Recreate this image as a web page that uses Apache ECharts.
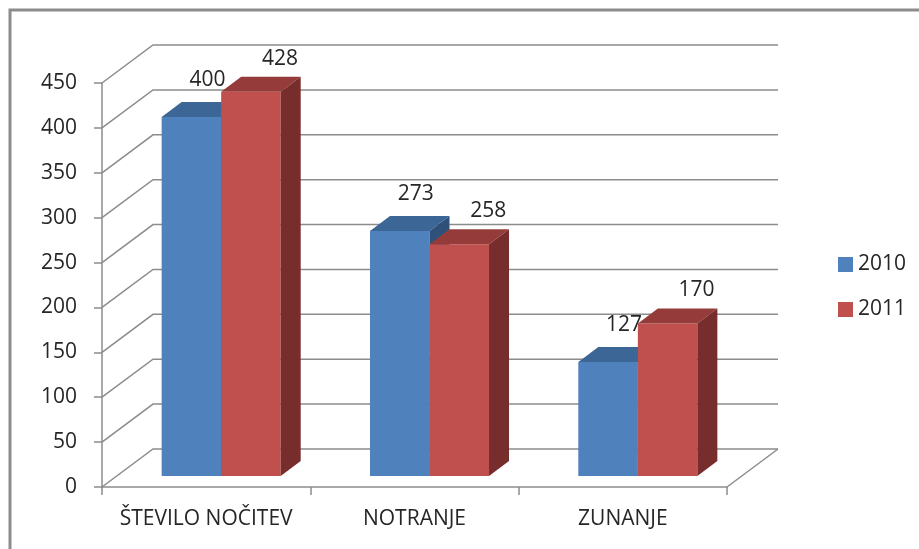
<!DOCTYPE html>
<html><head><meta charset="utf-8">
<script src="https://cdn.jsdelivr.net/npm/echarts@6/dist/echarts.min.js"></script>
<style>html,body{margin:0;padding:0;background:#fff}#c{width:919px;height:549px}</style>
</head><body><div id="c"></div>
<script>
const categories = ['ŠTEVILO NOČITEV', 'NOTRANJE', 'ZUNANJE'];
const seriesNames = ['2010', '2011'];
const values2010 = [400, 273, 127];
const values2011 = [428, 258, 170];
const yTicks = [0, 50, 100, 150, 200, 250, 300, 350, 400, 450];

const FONT = '"Open Sans", "Noto Sans", sans-serif';
const FS = 21;
const TEXT = '#262626';
const GRID_COLOR = '#8c8c8c';
const WALL = { dx: 51, dy: -38 };
const BAR_FRONT = { dx: 15, dy: -11 };
const BAR_DEPTH = { dx: 20, dy: -15 };
const faceColors = [
  { front: '#4F81BD', top: '#3c6696', side: '#2f5179' },
  { front: '#C0504D', top: '#953c3a', side: '#772d2b' }
];
const labelOffset = [{ dx: 16, dy: -37 }, { dx: 29, dy: -33 }];

function gridRender(params, api) {
  const cs = params.coordSys;
  const v = api.value(1);
  const y = api.coord([0, v])[1];
  const x0 = cs.x, x1 = cs.x + cs.width;
  const children = [{
    type: 'polyline',
    shape: { points: [[x0, y], [x0 + WALL.dx, y + WALL.dy], [x1 + WALL.dx, y + WALL.dy]] },
    style: { stroke: GRID_COLOR, lineWidth: 1.5, fill: null }
  }];
  if (v === 0) {
    children.push({ type: 'line', shape: { x1: x1, y1: y, x2: x1 + WALL.dx, y2: y + WALL.dy },
      style: { stroke: GRID_COLOR, lineWidth: 1.5 } });
  }
  return { type: 'group', children: children };
}

function makeBarRender(si) {
  return function (params, api) {
    const idx = api.value(0);
    const v = api.value(1);
    const catW = api.size([1, 0])[0];
    const w = catW / 3.5;
    const c = api.coord([idx, v]);
    const base = api.coord([idx, 0]);
    const left = c[0] + (si === 0 ? -w : 0) + BAR_FRONT.dx;
    const right = left + w;
    const top = c[1] + BAR_FRONT.dy;
    const bottom = base[1] + BAR_FRONT.dy;
    const col = faceColors[si];
    const d = BAR_DEPTH;
    return {
      type: 'group',
      children: [
        { type: 'rect', shape: { x: left, y: top, width: w, height: bottom - top },
          style: { fill: col.front } },
        { type: 'polygon', shape: { points: [[left, top], [right, top], [right + d.dx, top + d.dy], [left + d.dx, top + d.dy]] },
          style: { fill: col.top } },
        { type: 'polygon', shape: { points: [[right, top], [right + d.dx, top + d.dy], [right + d.dx, bottom + d.dy], [right, bottom]] },
          style: { fill: col.side } },
        { type: 'text', style: { text: String(v), x: left + w / 2 + labelOffset[si].dx, y: top + labelOffset[si].dy,
          align: 'center', verticalAlign: 'middle', fontSize: FS, fontFamily: FONT, fill: TEXT } }
      ]
    };
  };
}

const allValues = [values2010, values2011];
const series = [{
  type: 'custom',
  name: 'grid',
  renderItem: gridRender,
  data: yTicks.map(t => [0, t]),
  encode: { x: 0, y: 1 },
  silent: true,
  z: 1
}];
seriesNames.forEach((n, si) => {
  series.push({
    type: 'custom',
    name: n,
    renderItem: makeBarRender(si),
    data: allValues[si].map((v, i) => [i, v]),
    encode: { x: 0, y: 1 },
    itemStyle: { color: faceColors[si].front },
    z: 2 + si
  });
});

const chart = echarts.init(document.getElementById('c'), null, { renderer: 'canvas' });
chart.setOption({
  animation: false,
  backgroundColor: '#fff',
  grid: { left: 102, top: 83, width: 625, height: 404 },
  xAxis: {
    type: 'category',
    data: categories,
    boundaryGap: true,
    axisLine: { lineStyle: { color: GRID_COLOR, width: 1.5 } },
    axisTick: { show: true, length: 8, lineStyle: { color: GRID_COLOR, width: 1.5 } },
    axisLabel: { color: TEXT, fontSize: FS, fontFamily: FONT, margin: 22, interval: 0 },
    splitLine: { show: false }
  },
  yAxis: {
    type: 'value',
    min: 0, max: 450, interval: 50,
    axisLine: { show: true, lineStyle: { color: GRID_COLOR, width: 1.5 } },
    axisTick: { show: true, length: 8, lineStyle: { color: GRID_COLOR, width: 1.5 } },
    axisLabel: { color: TEXT, fontSize: FS, fontFamily: FONT, margin: 25 },
    splitLine: { show: false }
  },
  legend: {
    data: seriesNames,
    orient: 'vertical',
    left: 833, top: 249,
    icon: 'rect',
    itemWidth: 15, itemHeight: 15,
    itemGap: 24,
    textStyle: { color: TEXT, fontSize: FS, fontFamily: FONT, lineHeight: 21 }
  },
  graphic: [{
    type: 'rect', x: 10, y: 10, silent: true,
    shape: { x: 0, y: 0, width: 1000, height: 1000 },
    style: { fill: null, stroke: '#8c8c8c', lineWidth: 3 }
  }],
  series: series
});
</script>
</body></html>
